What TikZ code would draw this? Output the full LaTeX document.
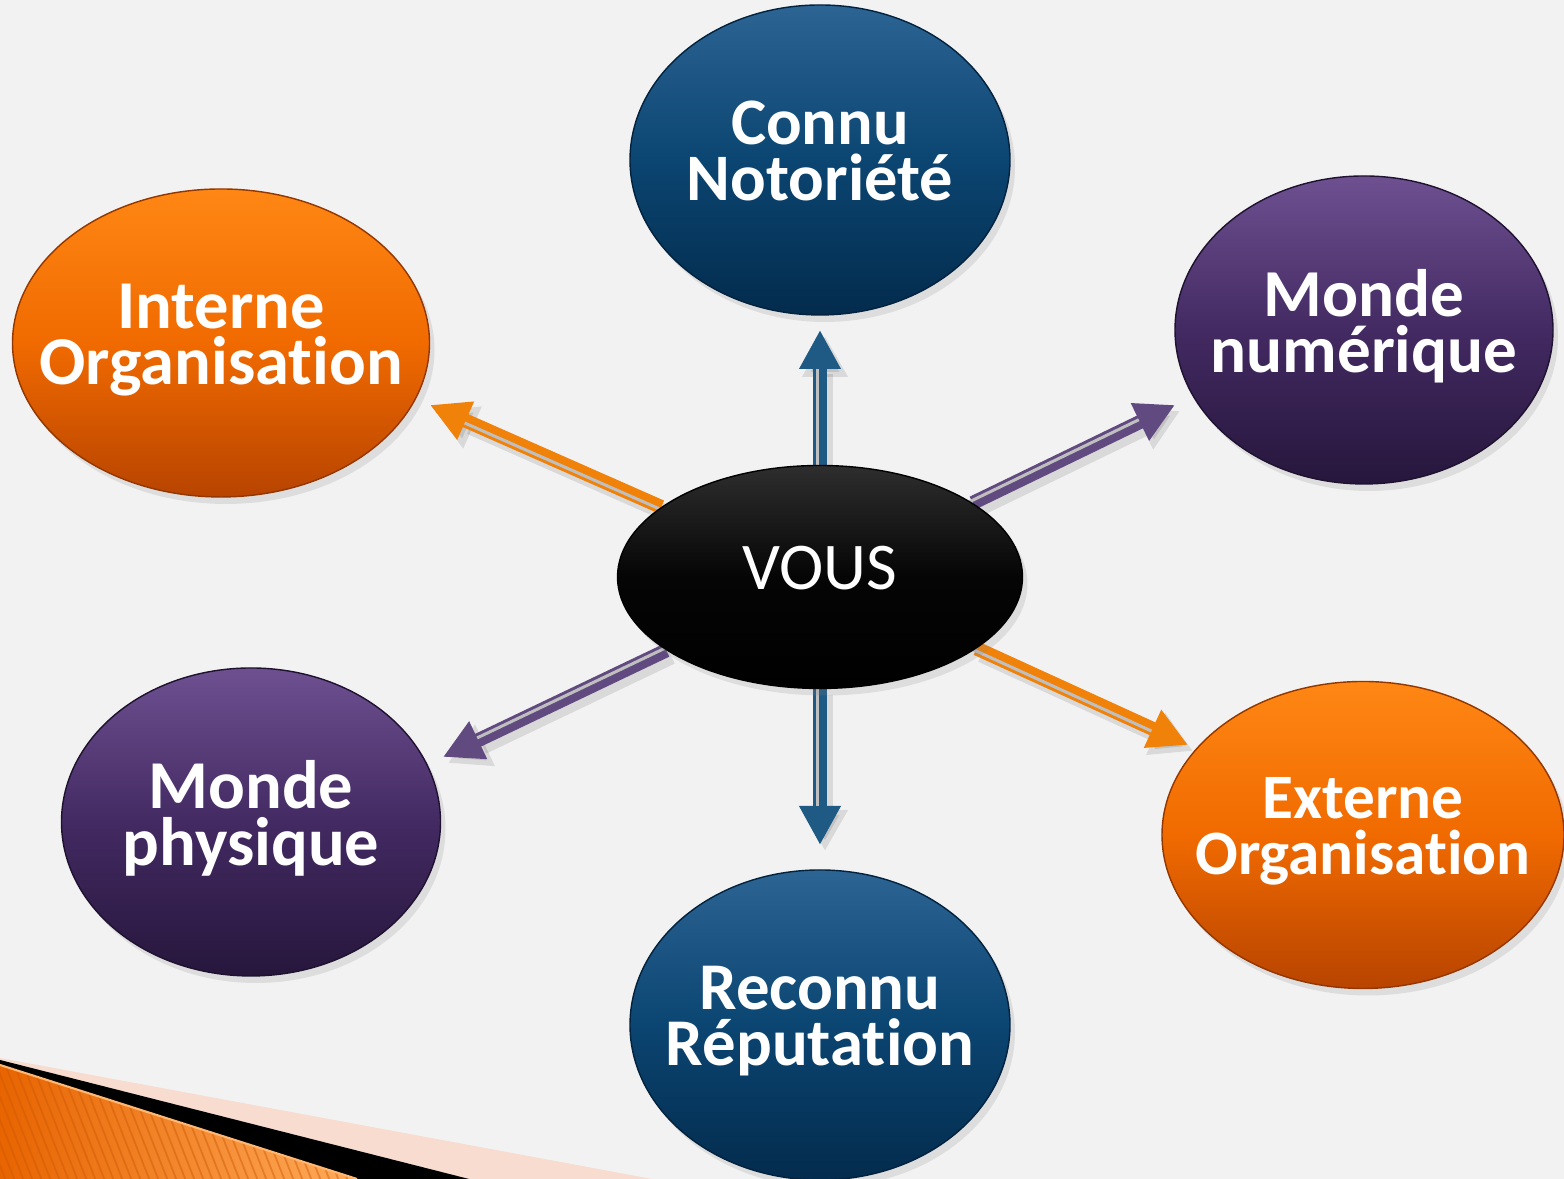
\documentclass[tikz,border=0pt]{standalone}
\usepackage{fontspec}
\setmainfont{Carlito}[Ligatures=NoCommon]
\usepackage{tikz}
\usetikzlibrary{shapes.geometric,arrows.meta,calc,shadows}

\definecolor{bgGray}{HTML}{F2F2F2}
\definecolor{blueTop}{HTML}{2C6494}
\definecolor{blueMid}{HTML}{0B4571}
\definecolor{blueBot}{HTML}{032B4D}
\definecolor{purpTop}{HTML}{6E5091}
\definecolor{purpMid}{HTML}{432A62}
\definecolor{purpBot}{HTML}{26163C}
\definecolor{orTop}{HTML}{FF8714}
\definecolor{orMid}{HTML}{F06A00}
\definecolor{orBot}{HTML}{B84400}
\definecolor{vousTop}{HTML}{2E2E2E}
\definecolor{vousMid}{HTML}{050505}
\definecolor{vousBot}{HTML}{000000}
\definecolor{arrBlue}{HTML}{1F5A84}
\definecolor{arrOr}{HTML}{F0820A}
\definecolor{arrPurp}{HTML}{604A80}
\definecolor{peach}{HTML}{F7DCCF}

\pgfdeclarelayer{back}
\pgfsetlayers{back,main}

\begin{document}
\begin{tikzpicture}[
    blob/.style={ellipse, inner sep=0pt, draw=#1Bot!80!black, line width=0.4pt,
      top color=#1Top, bottom color=#1Bot, middle color=#1Mid,
      drop shadow={opacity=0.18, shadow xshift=0.05cm, shadow yshift=-0.07cm}},
    lbl/.style={text=white, font=\fontsize{#1}{16}\selectfont\bfseries, align=center,
      inner sep=0pt, text depth=0pt, yshift=0.09cm},
    lbl/.default=19.5,
    vouslbl/.style={text=white, font=\fontsize{19}{16}\selectfont, inner sep=0pt,
      text depth=0pt, yshift=0.095cm},
    shaft/.style={line width=0.14cm, -{Triangle[length=0.39cm, width=0.39cm]}},
    ashadow/.style={black, opacity=0.10, line width=0.16cm,
      -{Triangle[length=0.41cm, width=0.43cm]},
      transform canvas={xshift=0.05cm, yshift=-0.06cm}},
    stripe/.style={black!25, line width=0.03cm},
    decostripe/.style={orBot!70!orTop, opacity=0.45, line width=0.5pt}
  ]
  \useasboundingbox (0,0) rectangle (15.64,11.79);

  \node[blob=blue, minimum width=3.80cm, minimum height=3.10cm,
    label={[lbl=18.9]center:{Connu\\Notoriété}}] (connu) at (8.20,10.19) {};
  \node[blob=purp, minimum width=3.78cm, minimum height=3.08cm,
    label={[lbl=19.1]center:{Monde\\numérique}}] (numerique) at (13.64,8.49) {};
  \node[blob=or, minimum width=4.17cm, minimum height=3.08cm,
    label={[lbl]center:{Interne\\Organisation}}] (interne) at (2.21,8.36) {};
  \node[blob=vous, minimum width=4.05cm, minimum height=2.23cm,
    label={[vouslbl]center:VOUS}] (vous) at (8.20,6.02) {};
  \node[blob=purp, minimum width=3.79cm, minimum height=3.08cm,
    label={[lbl]center:{Monde\\physique}}] (physique) at (2.51,3.57) {};
  \node[blob=or, minimum width=4.02cm, minimum height=3.07cm,
    label={[lbl=18]center:{Externe\\Organisation}}] (externe) at (13.63,3.44) {};
  \node[blob=blue, minimum width=3.80cm, minimum height=3.10cm,
    label={[lbl=19]center:{Reconnu\\Réputation}}] (reconnu) at (8.20,1.54) {};

  \coordinate (tipconnu) at (8.20,8.49);
  \coordinate (tipreconnu) at (8.20,3.34);
  \coordinate (tipinterne) at (4.30,7.74);
  \coordinate (tipnumerique) at (11.75,7.74);
  \coordinate (tipphysique) at (4.43,4.22);
  \coordinate (tipexterne) at (11.88,4.34);

  \begin{pgfonlayer}{back}
    \fill[bgGray] (0,0) rectangle (15.64,11.79);

    \fill[peach] (0,1.21) -- (6.52,0) -- (0,0) -- cycle;
    \fill[black] (0,1.19) -- (4.69,0) -- (0,0) -- cycle;
    \begin{scope}
      \clip (0,1.14) -- (3.57,0) -- (0,0) -- cycle;
      \fill[left color=orMid!85!orBot, right color=orTop!70!white] (0,0) rectangle (3.6,1.2);
      \foreach \k in {0,...,45}
        \draw[decostripe] (\k*0.09-0.6,1.2) -- ++(0.48,-1.22);
    \end{scope}
    \draw[orTop!60!white, line width=0.6pt] (0,1.14) -- (3.57,0);

    \draw[ashadow] (vous) -- (tipconnu);
    \draw[ashadow] (vous) -- (tipreconnu);
    \draw[ashadow] (vous) -- (tipinterne);
    \draw[ashadow] (vous) -- (tipnumerique);
    \draw[ashadow] (vous) -- (tipphysique);
    \draw[ashadow] (vous) -- (tipexterne);

    \draw[shaft, arrBlue] (vous) -- (tipconnu);
    \draw[shaft, arrBlue] (vous) -- (tipreconnu);
    \draw[shaft, arrOr] (vous) -- (tipinterne);
    \draw[shaft, arrPurp] (vous) -- (tipnumerique);
    \draw[shaft, arrPurp] (vous) -- (tipphysique);
    \draw[shaft, arrOr] (vous) -- (tipexterne);

    \draw[stripe] ($(vous.center)!0.025cm!90:(tipconnu)$)
      -- ($($(tipconnu)!0.39cm!(vous.center)$)!0.025cm!-90:(vous.center)$);
    \draw[stripe] ($(vous.center)!0.025cm!-90:(tipreconnu)$)
      -- ($($(tipreconnu)!0.39cm!(vous.center)$)!0.025cm!90:(vous.center)$);
    \draw[stripe] ($(vous.center)!0.025cm!90:(tipinterne)$)
      -- ($($(tipinterne)!0.39cm!(vous.center)$)!0.025cm!-90:(vous.center)$);
    \draw[stripe] ($(vous.center)!0.025cm!90:(tipnumerique)$)
      -- ($($(tipnumerique)!0.39cm!(vous.center)$)!0.025cm!-90:(vous.center)$);
    \draw[stripe] ($(vous.center)!0.025cm!-90:(tipphysique)$)
      -- ($($(tipphysique)!0.39cm!(vous.center)$)!0.025cm!90:(vous.center)$);
    \draw[stripe] ($(vous.center)!0.025cm!-90:(tipexterne)$)
      -- ($($(tipexterne)!0.39cm!(vous.center)$)!0.025cm!90:(vous.center)$);
  \end{pgfonlayer}
\end{tikzpicture}
\end{document}
